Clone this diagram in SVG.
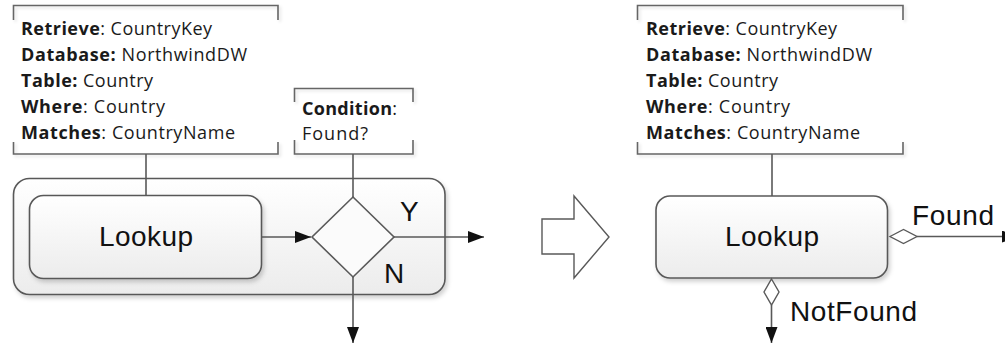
<svg xmlns="http://www.w3.org/2000/svg" width="1005" height="344" viewBox="0 0 1005 344">
  <style>
    .line { fill: none; stroke: #595959; stroke-width: 1.6; }
    .box { stroke: #595959; stroke-width: 1.6; fill: url(#boxFill); filter: url(#shadow); }
    .bracket { fill: none; stroke: #666; stroke-width: 1.6; filter: url(#soft); }
    .note { font-family: "Open Sans", "Liberation Sans", sans-serif; font-size: 18px; fill: #1a1a1a; }
    .note .b { font-weight: bold; }
    .label { font-family: "Liberation Sans", Arial, sans-serif; font-size: 28px; fill: #111; }
  </style>
  <defs>
    <linearGradient id="boxFill" x1="0" y1="0" x2="0" y2="1">
      <stop offset="0" stop-color="#ffffff"/>
      <stop offset="1" stop-color="#ececec"/>
    </linearGradient>
    <filter id="shadow" x="-10%" y="-10%" width="125%" height="130%">
      <feDropShadow dx="2" dy="3" stdDeviation="2" flood-color="#000" flood-opacity="0.18"/>
    </filter>
    <filter id="soft" x="-5%" y="-5%" width="115%" height="120%">
      <feDropShadow dx="2" dy="2" stdDeviation="1.5" flood-color="#000" flood-opacity="0.12"/>
    </filter>
    <marker id="arrow" viewBox="0 0 16 12" refX="16" refY="6" markerWidth="16" markerHeight="12" markerUnits="userSpaceOnUse" orient="auto">
      <path d="M0,0 L16,6 L0,12 Z" fill="#111"/>
    </marker>
  </defs>

  <!-- Left: lookup followed by a conditional split -->
  <g id="container-left">
    <rect class="box" x="13.5" y="178.5" width="431.5" height="116" rx="16"/>
  </g>

  <g id="lookup-left">
    <rect class="box" x="29.5" y="195.5" width="232" height="83" rx="14"/>
    <text class="label" x="146" y="246" text-anchor="middle" textLength="94">Lookup</text>
  </g>

  <g id="decision">
    <polygon points="353,197 394,237 353,277 312,237" fill="#fbfbfb" stroke="#595959" stroke-width="1.6"/>
    <text class="label" x="400" y="221" textLength="19">Y</text>
    <text class="label" x="384" y="283" textLength="19">N</text>
  </g>

  <g id="note-lookup-left">
    <path class="bracket" d="M13.5,20 V5.5 H278 V20 M13.5,142 V154 H278 V142"/>
    <text class="note" x="21" y="34.5" textLength="191"><tspan class="b">Retrieve</tspan>: CountryKey</text>
    <text class="note" x="21" y="60.5" textLength="226"><tspan class="b">Database:</tspan> NorthwindDW</text>
    <text class="note" x="21" y="87" textLength="132"><tspan class="b">Table:</tspan> Country</text>
    <text class="note" x="21" y="113" textLength="144"><tspan class="b">Where</tspan>: Country</text>
    <text class="note" x="21" y="139" textLength="214"><tspan class="b">Matches</tspan>: CountryName</text>
  </g>

  <g id="note-condition">
    <path class="bracket" d="M294.5,102 V88.5 H413 V102 M294.5,140 V154 H413 V140"/>
    <text class="note" x="302" y="115" textLength="95"><tspan class="b">Condition</tspan>:</text>
    <text class="note" x="302" y="140" textLength="66">Found?</text>
  </g>

  <!-- Transformation arrow -->
  <g id="transform-arrow">
    <polygon points="542,219 574,219 574,196 609,237 574,278 574,254 542,254" fill="#fff" stroke="#595959" stroke-width="1.4"/>
  </g>

  <!-- Right: lookup with found / not found outputs -->
  <g id="lookup-right">
    <rect class="box" x="656" y="196" width="231.5" height="82" rx="14"/>
    <text class="label" x="772" y="246" text-anchor="middle" textLength="94">Lookup</text>
  </g>

  <g id="note-lookup-right">
    <path class="bracket" d="M637.5,20 V5.5 H903 V20 M637.5,142 V154 H903 V142"/>
    <text class="note" x="646" y="34.5" textLength="191"><tspan class="b">Retrieve</tspan>: CountryKey</text>
    <text class="note" x="646" y="60.5" textLength="226"><tspan class="b">Database:</tspan> NorthwindDW</text>
    <text class="note" x="646" y="87" textLength="132"><tspan class="b">Table:</tspan> Country</text>
    <text class="note" x="646" y="113" textLength="144"><tspan class="b">Where</tspan>: Country</text>
    <text class="note" x="646" y="139" textLength="214"><tspan class="b">Matches</tspan>: CountryName</text>
  </g>

  <g id="connectors">
    <!-- left side -->
    <line class="line" x1="146" y1="154" x2="146" y2="195.5"/>
    <line class="line" x1="353" y1="154" x2="353" y2="197"/>
    <line class="line" x1="261.5" y1="237" x2="311" y2="237" marker-end="url(#arrow)"/>
    <line class="line" x1="394" y1="237" x2="484" y2="237" marker-end="url(#arrow)"/>
    <line class="line" x1="353" y1="277" x2="353" y2="343" marker-end="url(#arrow)"/>
    <!-- right side -->
    <line class="line" x1="772" y1="154" x2="772" y2="196"/>
    <polygon points="890,236.5 903.5,229.5 917,236.5 903.5,243.5" fill="#fff" stroke="#595959" stroke-width="1.4"/>
    <line class="line" x1="917" y1="236.5" x2="1018" y2="236.5" marker-end="url(#arrow)"/>
    <polygon points="771.5,279 779,292 771.5,305 764,292" fill="#fff" stroke="#595959" stroke-width="1.4"/>
    <line class="line" x1="771.5" y1="305" x2="771.5" y2="343" marker-end="url(#arrow)"/>
    <text class="label" x="912" y="225" textLength="82">Found</text>
    <text class="label" x="790" y="321" textLength="127">NotFound</text>
  </g>
</svg>
